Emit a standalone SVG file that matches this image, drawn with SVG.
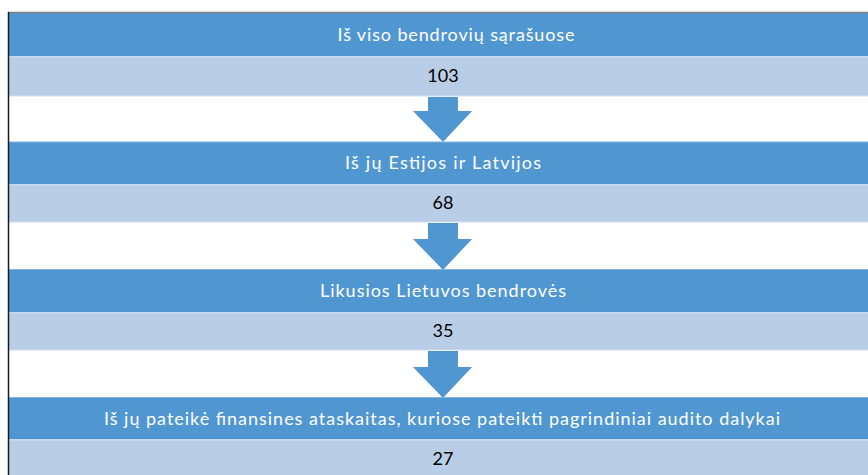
<svg xmlns="http://www.w3.org/2000/svg" width="868" height="475" viewBox="0 0 868 475">
<style>
.dark{fill:#5097D2}
.light{fill:#BACDE6}
.edge{stroke:#D2E0F1;stroke-width:1}
.arrow{fill:#5097D2}
.t{font-family:Lato,"Open Sans",sans-serif;font-size:18px;text-anchor:middle}
.w{fill:#FFFFFF}
.k{fill:#000000}
</style>
<rect x="0" y="0" width="868" height="475" fill="#FFFFFF"/>
<g id="connectors">
<polygon class="arrow" points="428,97 458,97 458,111 472,111 443,142 413,111 428,111"/>
<polygon class="arrow" points="428,223 458,223 458,239 472,239 443,270 413,239 428,239"/>
<polygon class="arrow" points="428,351 458,351 458,367 472,367 443,398 413,367 428,367"/>
</g>
<g id="node1">
<rect class="dark" x="8" y="13" width="860" height="43"/>
<text class="t w" x="456" y="41" textLength="237" lengthAdjust="spacing">Iš viso bendrovių sąrašuose</text>
</g>
<g id="node1v">
<rect class="light" x="8" y="56" width="860" height="40"/>
<line class="edge" x1="8" y1="57" x2="868" y2="57"/>
<line class="edge" x1="8" y1="96" x2="868" y2="96"/>
<text class="t k" x="443" y="82">103</text>
</g>
<g id="node2">
<rect class="dark" x="8" y="142" width="860" height="42"/>
<line x1="8" y1="142" x2="868" y2="142" stroke="#7FB3E0" stroke-width="1"/>
<text class="t w" x="443" y="169" textLength="196" lengthAdjust="spacing">Iš jų Estijos ir Latvijos</text>
</g>
<g id="node2v">
<rect class="light" x="8" y="184" width="860" height="38"/>
<line class="edge" x1="8" y1="185" x2="868" y2="185"/>
<line class="edge" x1="8" y1="222" x2="868" y2="222"/>
<text class="t k" x="443" y="209">68</text>
</g>
<g id="node3">
<rect class="dark" x="8" y="269" width="860" height="43"/>
<line x1="8" y1="269.5" x2="868" y2="269.5" stroke="#7FB3E0" stroke-width="1"/>
<text class="t w" x="443" y="297" textLength="246" lengthAdjust="spacing">Likusios Lietuvos bendrovės</text>
</g>
<g id="node3v">
<rect class="light" x="8" y="312" width="860" height="38"/>
<line class="edge" x1="8" y1="313" x2="868" y2="313"/>
<line class="edge" x1="8" y1="350" x2="868" y2="350"/>
<text class="t k" x="443" y="337">35</text>
</g>
<g id="node4">
<rect class="dark" x="8" y="397" width="860" height="42"/>
<line x1="8" y1="397.5" x2="868" y2="397.5" stroke="#7FB3E0" stroke-width="1"/>
<text class="t w" x="442" y="425" textLength="676" lengthAdjust="spacing">Iš jų pateikė finansines ataskaitas, kuriose pateikti pagrindiniai audito dalykai</text>
</g>
<g id="node4v">
<rect class="light" x="8" y="439" width="860" height="36"/>
<line class="edge" x1="8" y1="440" x2="868" y2="440"/>
<text class="t k" x="443" y="465">27</text>
</g>
<line x1="8" y1="12.5" x2="868" y2="12.5" stroke="#808080" stroke-width="1.5"/>
<line x1="8.5" y1="12" x2="8.5" y2="475" stroke="#1A1A1A" stroke-width="1.5"/>
</svg>
